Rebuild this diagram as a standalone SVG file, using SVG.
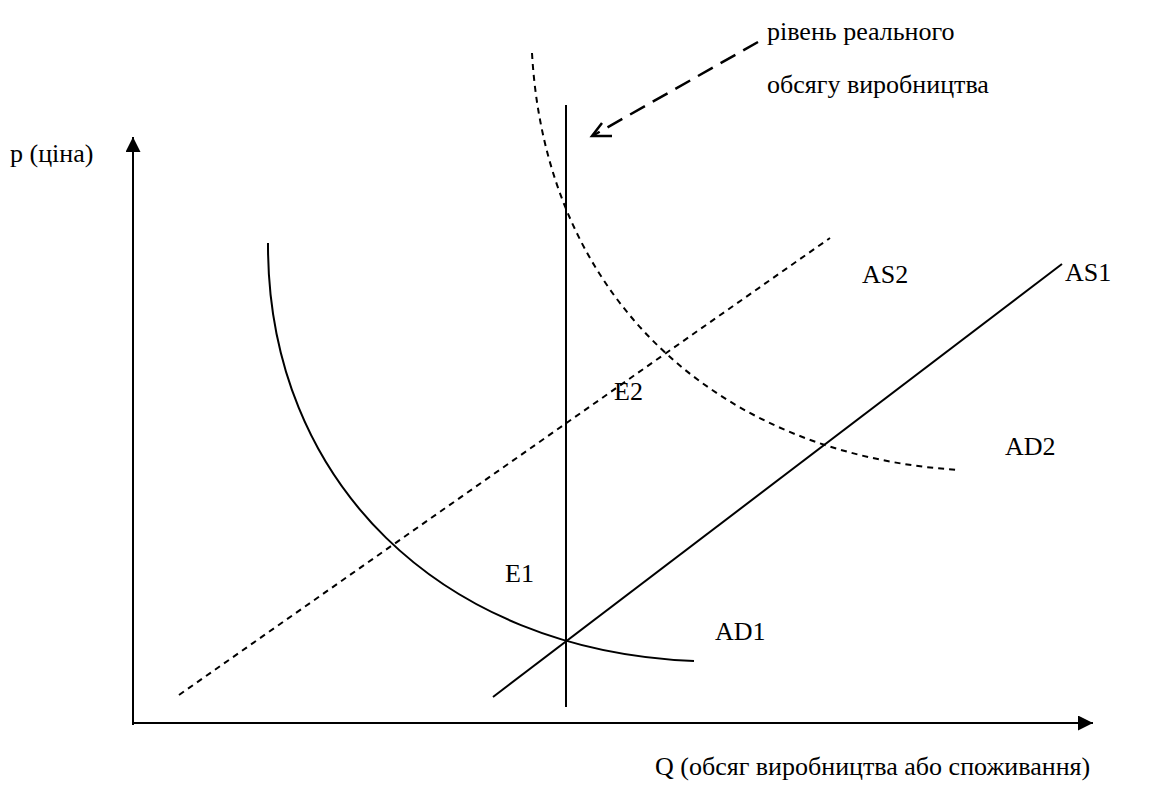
<svg xmlns="http://www.w3.org/2000/svg" width="1154" height="790" viewBox="0 0 1154 790">
<defs>
<style>
.ln{fill:none;stroke:#000;stroke-width:2}
.ds{fill:none;stroke:#000;stroke-width:2;stroke-dasharray:6 5}
.pt{fill:none;stroke:#000;stroke-width:2.5}
</style>
<marker id="ah" viewBox="0 0 10 10" refX="10" refY="5" markerWidth="15" markerHeight="15" markerUnits="userSpaceOnUse" orient="auto">
<path d="M0,0 L10,5 L0,10 Z" fill="#000"/>
</marker>
</defs>
<rect width="1154" height="790" fill="#fff"/>
<g id="axes">
<line class="ln" x1="133" y1="725" x2="133" y2="137" marker-end="url(#ah)"/>
<line class="ln" x1="133" y1="723" x2="1093" y2="723" marker-end="url(#ah)"/>
</g>
<g id="connectors">
<line id="real-level" class="ln" x1="566" y1="105" x2="566" y2="707"/>
<line id="AS1-line" class="ln" x1="493" y1="697" x2="1062" y2="264"/>
<line id="AS2-line" class="ds" x1="179" y1="695" x2="830" y2="238"/>
<path id="AD1-curve" class="ln" d="M268,243 C267,482 442,651 694,661"/>
<path id="AD2-curve" class="ds" d="M532,53 C546,302 722,456 960,470"/>
<path id="pointer" class="pt" d="M758,42 L594,135" stroke-dasharray="17 9"/>
<path class="pt" d="M602,123 L592,136 L612,136"/>
</g>
<g id="labels">
<text x="10" y="162" font-family="serif" font-size="26">p (ціна)</text>
<text x="767" y="40" font-family="serif" font-size="26">рівень реального</text>
<text x="767" y="93" font-family="serif" font-size="26">обсягу виробництва</text>
<text x="862" y="283" font-family="serif" font-size="26">AS2</text>
<text x="1065" y="281" font-family="serif" font-size="26">AS1</text>
<text x="614" y="400" font-family="serif" font-size="26">E2</text>
<text x="1005" y="455" font-family="serif" font-size="26">AD2</text>
<text x="505" y="582" font-family="serif" font-size="26">E1</text>
<text x="715" y="640" font-family="serif" font-size="26">AD1</text>
<text x="655" y="775" font-family="serif" font-size="26">Q (обсяг виробництва або споживання)</text>
</g>
</svg>
